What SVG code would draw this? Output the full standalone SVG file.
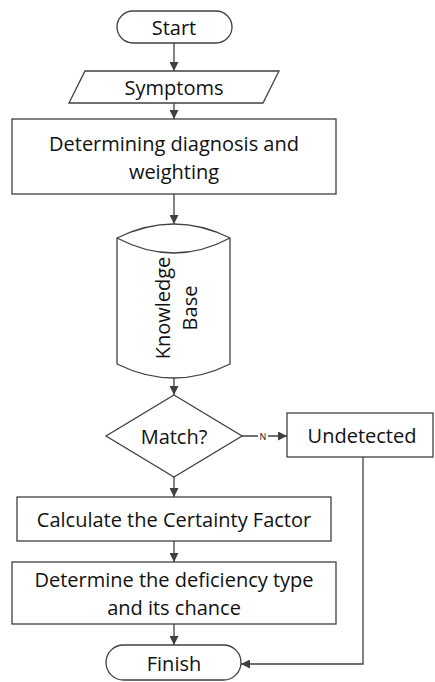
<svg xmlns="http://www.w3.org/2000/svg" width="435" height="682" viewBox="0 0 435 682">
<style>
.s{fill:#fff;stroke:#404040;stroke-width:1.3}
.t{font-family:"Open Sans","Liberation Sans",sans-serif;font-size:20px;fill:#111;text-anchor:middle;dominant-baseline:central}
.c{fill:none;stroke:#404040;stroke-width:1.3}
.n{font-family:"Open Sans","Liberation Sans",sans-serif;font-size:9px;fill:#111;text-anchor:middle;dominant-baseline:central}
</style>
<defs>
<marker id="a" viewBox="0 0 10 10" refX="10" refY="5" markerWidth="9" markerHeight="9" markerUnits="userSpaceOnUse" orient="auto">
<path d="M0,0 L10,5 L0,10 Z" fill="#404040"/>
</marker>
</defs>
<g id="connectors">
<line class="c" x1="174" y1="43" x2="174" y2="71" marker-end="url(#a)"/>
<line class="c" x1="174" y1="103" x2="174" y2="119" marker-end="url(#a)"/>
<line class="c" x1="174" y1="194" x2="174" y2="224" marker-end="url(#a)"/>
<line class="c" x1="174" y1="378" x2="174" y2="395" marker-end="url(#a)"/>
<line class="c" x1="242" y1="436" x2="287" y2="436" marker-end="url(#a)"/>
<rect x="258" y="430" width="10" height="12" fill="#fff"/>
<text class="n" x="263" y="436">N</text>
<line class="c" x1="174" y1="477" x2="174" y2="497" marker-end="url(#a)"/>
<line class="c" x1="174" y1="541" x2="174" y2="562" marker-end="url(#a)"/>
<line class="c" x1="174" y1="624" x2="174" y2="645" marker-end="url(#a)"/>
<polyline class="c" points="363,457 363,664 241,664" marker-end="url(#a)"/>
</g>
<g id="start">
<rect class="s" x="117" y="11" width="115" height="32" rx="16"/>
<text class="t" x="174" y="27">Start</text>
</g>
<g id="symptoms">
<polygon class="s" points="85,71 279,71 263,103 69,103"/>
<text class="t" x="174" y="87">Symptoms</text>
</g>
<g id="determining">
<rect class="s" x="12" y="119" width="324" height="75"/>
<text class="t" x="174" y="143">Determining diagnosis and</text>
<text class="t" x="174" y="171">weighting</text>
</g>
<g id="knowledge">
<path class="s" d="M117,238 Q174,210 230,238 L230,364 Q174,392 117,364 Z"/>
<path class="c" d="M117,238 Q174,268 230,238"/>
<text class="t" transform="translate(162,308) rotate(-90)" x="0" y="0">Knowledge</text>
<text class="t" transform="translate(189,308) rotate(-90)" x="0" y="0">Base</text>
</g>
<g id="match">
<polygon class="s" points="174,395 242,436 174,477 106,436"/>
<text class="t" x="174" y="436">Match?</text>
</g>
<g id="undetected">
<rect class="s" x="287" y="413" width="146" height="44"/>
<text class="t" x="362" y="435">Undetected</text>
</g>
<g id="calculate">
<rect class="s" x="17" y="497" width="314" height="44"/>
<text class="t" x="174" y="519">Calculate the Certainty Factor</text>
</g>
<g id="determine">
<rect class="s" x="12" y="562" width="324" height="62"/>
<text class="t" x="174" y="579">Determine the deficiency type</text>
<text class="t" x="174" y="607">and its chance</text>
</g>
<g id="finish">
<rect class="s" x="106" y="645" width="135" height="35" rx="17.5"/>
<text class="t" x="174" y="663">Finish</text>
</g>
</svg>
